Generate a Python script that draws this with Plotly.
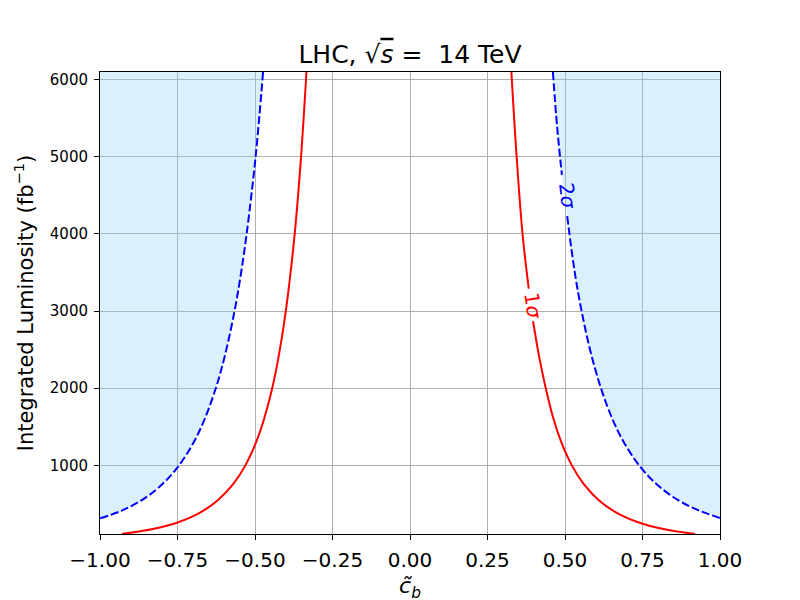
import plotly.graph_objects as go

# ---- data ----
# 1 sigma contour (red, solid)
red_left_c = [-0.334, -0.3515, -0.372, -0.4006, -0.4242, -0.4445, -0.4708, -0.4964, -0.531, -0.570, -0.620, -0.680, -0.750, -0.830, -0.930]
red_left_L = [6100, 5000, 4000, 3000, 2400, 2000, 1600, 1300, 1000, 759, 547, 381, 260, 175, 110]
red_right_c = [0.327, 0.344, 0.363, 0.383, None, 0.397, 0.417, 0.438, 0.463, 0.488, 0.522, 0.560, 0.610, 0.670, 0.750, 0.830, 0.920]
red_right_L = [6100, 5000, 4000, 3292, None, 2868, 2400, 2000, 1600, 1300, 1000, 760, 545, 378, 243, 164, 110]

# 2 sigma contour (blue, dashed)
blue_left_c = [-0.474, -0.498, -0.527, -0.5447, -0.566, -0.5985, -0.6265, -0.6624, -0.6977, -0.745, -0.800, -0.860, -0.930, -1.000]
blue_left_L = [6100, 5000, 4000, 3500, 3000, 2400, 2000, 1600, 1300, 1000, 752, 563, 412, 312]
blue_right_c = [0.461, 0.4743, 0.490, None, 0.507, 0.5315, 0.5535, 0.5807, 0.616, 0.653, 0.6897, 0.739, 0.790, 0.850, 0.920, 1.000]
blue_right_L = [6100, 5400, 4766, None, 4230, 3500, 3000, 2500, 2000, 1600, 1300, 1000, 776, 587, 435, 317]

# contour labels
label_text = ["1<i>σ</i>", "2<i>σ</i>"]
label_c = [0.396, 0.508]
label_L = [3062, 4490]
label_angle = [82, 83]

x_ticks = [-1.0, -0.75, -0.5, -0.25, 0.0, 0.25, 0.5, 0.75, 1.0]
y_ticks = [1000, 2000, 3000, 4000, 5000, 6000]
x_range = [-1.0, 1.0]
y_range = [110, 6100]

FONT = "DejaVu Sans"
RED = "#ff0000"
BLUE = "#0000ff"
FILL = "rgba(135,206,250,0.3)"


def clean(a):
    return [v for v in a if v is not None]


fig = go.Figure()

# shaded excluded regions (outside 2 sigma)
pad_x = 0.2
pad_y = 800
lc, lL = clean(blue_left_c), clean(blue_left_L)
fig.add_trace(go.Scatter(
    x=lc + [x_range[0] - pad_x, x_range[0] - pad_x, lc[0]],
    y=lL + [lL[-1], y_range[1] + pad_y, y_range[1] + pad_y],
    mode="lines", line=dict(width=0, shape="spline"), fill="toself",
    fillcolor=FILL, hoverinfo="skip", showlegend=False))
rc, rL = clean(blue_right_c), clean(blue_right_L)
fig.add_trace(go.Scatter(
    x=rc + [x_range[1] + pad_x, x_range[1] + pad_x, rc[0]],
    y=rL + [rL[-1], y_range[1] + pad_y, y_range[1] + pad_y],
    mode="lines", line=dict(width=0, shape="spline"), fill="toself",
    fillcolor=FILL, hoverinfo="skip", showlegend=False))

# contour lines
for cx, cy in [(red_left_c, red_left_L), (red_right_c, red_right_L)]:
    fig.add_trace(go.Scatter(x=cx, y=cy, mode="lines", connectgaps=False,
                             line=dict(color=RED, width=2, shape="spline"),
                             showlegend=False))
for cx, cy in [(blue_left_c, blue_left_L), (blue_right_c, blue_right_L)]:
    fig.add_trace(go.Scatter(x=cx, y=cy, mode="lines", connectgaps=False,
                             line=dict(color=BLUE, width=2, dash="8px,3px", shape="spline"),
                             showlegend=False))

for t, cx, cy, ang, col in zip(label_text, label_c, label_L, label_angle, [RED, BLUE]):
    fig.add_annotation(x=cx, y=cy, text=t, textangle=ang, showarrow=False,
                       font=dict(family=FONT, size=20, color=col),
                       xanchor="center", yanchor="middle")

axis_common = dict(showline=True, mirror=True, linecolor="black", linewidth=1,
                   ticks="outside", ticklen=5, tickwidth=1, tickcolor="black",
                   showgrid=True, gridcolor="#b0b0b0", gridwidth=1,
                   zeroline=False, ticklabelstandoff=3)

fig.update_layout(
    width=800, height=600,
    paper_bgcolor="white", plot_bgcolor="white",
    margin=dict(l=92, r=88, t=64, b=74),
    font=dict(family=FONT, color="black"),
    title=dict(text="LHC, √<span style=\"text-decoration:overline\"><i>s</i></span>\u00a0=\u00a0\u00a014 TeV",
               x=0.5, xref="paper", xanchor="center",
               y=1 - 46 / 600, yref="container", yanchor="middle",
               font=dict(family=FONT, size=25, color="black")),
    xaxis=dict(range=x_range, tickvals=x_ticks, tickformat=".2f",
               tickfont=dict(family=FONT, size=20),
               title=dict(text="<i>c\u0303</i><sub><i>b</i></sub>", standoff=6,
                          font=dict(family=FONT, size=22)),
               **axis_common),
    yaxis=dict(range=y_range, tickvals=y_ticks, tickformat="d",
               tickfont=dict(family=FONT, size=15),
               title=dict(text="Integrated Luminosity (fb<sup>−1</sup>)", standoff=10,
                          font=dict(family=FONT, size=21)),
               **axis_common),
)

fig.write_html("out.html")
